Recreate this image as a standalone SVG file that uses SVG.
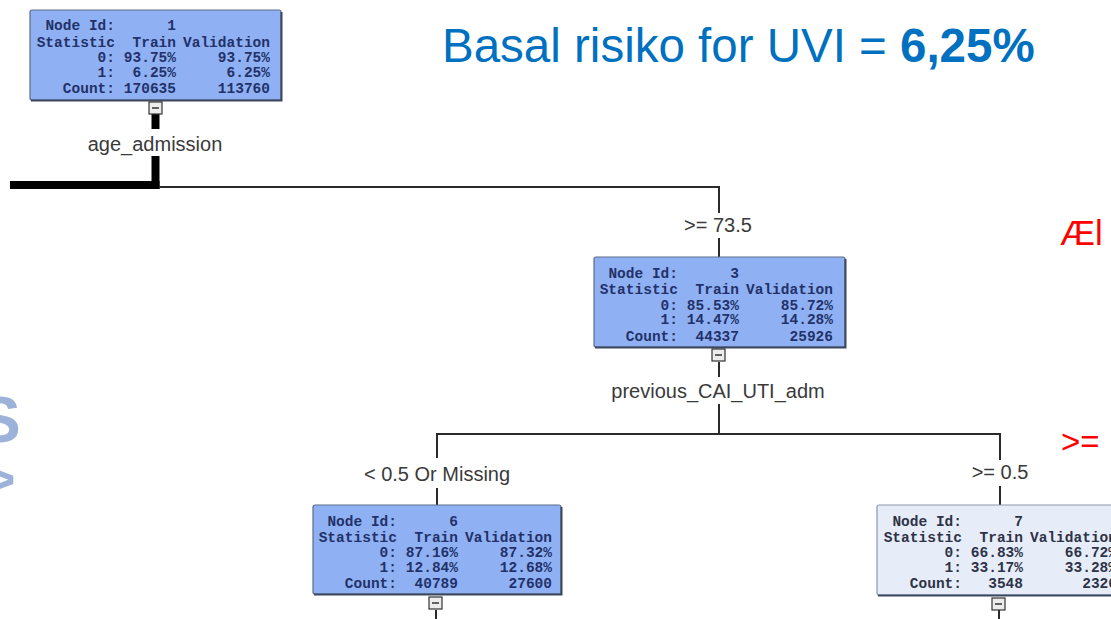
<svg xmlns="http://www.w3.org/2000/svg" width="1111" height="619" viewBox="0 0 1111 619">
<style>
.box{fill:#8fb1f3;stroke:#5d6c88;stroke-width:1.2}
.box7{fill:#e7edf8;stroke:#8c97aa;stroke-width:1.2}
.shadow{stroke:#3c4760;stroke-width:2;fill:none}
.nt{font-family:"Liberation Mono","DejaVu Sans Mono",monospace;font-size:14.5px;font-weight:bold;fill:#23316a;text-anchor:end}
.nt7{font-family:"Liberation Mono","DejaVu Sans Mono",monospace;font-size:14.5px;font-weight:bold;fill:#2e3348;text-anchor:end}
.lbl{font-family:"Liberation Sans",Arial,sans-serif;font-size:20px;fill:#3a3a3a;text-anchor:middle}
.ln{stroke:#2a2a2a;stroke-width:2;fill:none}
.thick{stroke:#000;stroke-width:8;fill:none}
.cb{fill:#ececec;stroke:#333;stroke-width:1.2}
.red{font-family:"Liberation Sans",Arial,sans-serif;fill:#ff0000}
</style>
<defs>
<g id="collapse"><rect class="cb" x="0" y="0" width="13" height="12"/><line x1="3" y1="6" x2="10" y2="6" stroke="#333" stroke-width="1.5"/></g>
</defs>
<rect width="1111" height="619" fill="#ffffff"/>

<g id="title">
<text x="442" y="62" font-family="'Liberation Sans',Arial,sans-serif" font-size="47.5" fill="#0070c0">Basal risiko for UVI = <tspan font-weight="bold">6,25%</tspan></text>
</g>

<g id="red-notes">
<text class="red" x="1060" y="245" font-size="35">Æl</text>
<text class="red" x="1061" y="453" font-size="33">&gt;=</text>
</g>

<g id="left-fragments" fill="#9cb2d8" font-family="'Liberation Sans',Arial,sans-serif" font-weight="bold">
<text x="-22" y="442" font-size="64">S</text>
<text x="-15" y="497" font-size="52">&gt;</text>
</g>

<g id="connectors">
<line class="thick" x1="155.5" y1="114" x2="155.5" y2="129"/>
<line class="thick" x1="155.5" y1="156" x2="155.5" y2="189"/>
<line class="thick" x1="10" y1="185" x2="159.5" y2="185"/>
<polyline class="ln" points="159,187 719,187 719,213"/>
<line class="ln" x1="719" y1="238" x2="719" y2="257"/>
<line class="ln" x1="719" y1="362" x2="719" y2="377"/>
<polyline class="ln" points="719,404 719,434 437,434 437,458"/>
<polyline class="ln" points="719,434 1000,434 1000,460"/>
<line class="ln" x1="437" y1="488" x2="437" y2="505"/>
<line class="ln" x1="1000" y1="486" x2="1000" y2="505"/>
<line class="ln" x1="436" y1="610" x2="436" y2="619"/>
<line class="ln" x1="999" y1="610" x2="999" y2="619"/>
<text class="lbl" x="155" y="151">age_admission</text>
<text class="lbl" x="718" y="232">&gt;= 73.5</text>
<text class="lbl" x="718" y="398">previous_CAI_UTI_adm</text>
<text class="lbl" x="437" y="481">&lt; 0.5 Or Missing</text>
<text class="lbl" x="1000" y="479">&gt;= 0.5</text>
</g>

<g id="node1">
<rect class="box" x="30" y="10" width="251" height="90" rx="2"/>
<polyline class="shadow" points="31,100.5 281.5,100.5 281.5,12"/>
<g class="nt">
<text x="115" y="30">Node Id:</text><text x="176" y="30">1</text>
<text x="115" y="47">Statistic</text><text x="176" y="47">Train</text><text x="270" y="47">Validation</text>
<text x="115" y="62">0:</text><text x="176" y="62">93.75%</text><text x="270" y="62">93.75%</text>
<text x="115" y="77">1:</text><text x="176" y="77">6.25%</text><text x="270" y="77">6.25%</text>
<text x="115" y="93">Count:</text><text x="176" y="93">170635</text><text x="270" y="93">113760</text>
</g>
<use href="#collapse" x="149" y="102"/>
</g>

<g id="node3">
<rect class="box" x="594" y="257" width="251" height="90" rx="2"/>
<polyline class="shadow" points="595,347.5 845.5,347.5 845.5,259"/>
<g class="nt">
<text x="678" y="278">Node Id:</text><text x="739" y="278">3</text>
<text x="678" y="294">Statistic</text><text x="739" y="294">Train</text><text x="833" y="294">Validation</text>
<text x="678" y="310">0:</text><text x="739" y="310">85.53%</text><text x="833" y="310">85.72%</text>
<text x="678" y="324">1:</text><text x="739" y="324">14.47%</text><text x="833" y="324">14.28%</text>
<text x="678" y="341">Count:</text><text x="739" y="341">44337</text><text x="833" y="341">25926</text>
</g>
<use href="#collapse" x="712" y="349"/>
</g>

<g id="node6">
<rect class="box" x="313" y="505" width="248" height="89" rx="2"/>
<polyline class="shadow" points="314,594.5 561.5,594.5 561.5,507"/>
<g class="nt">
<text x="397" y="526">Node Id:</text><text x="458" y="526">6</text>
<text x="397" y="542">Statistic</text><text x="458" y="542">Train</text><text x="552" y="542">Validation</text>
<text x="397" y="557">0:</text><text x="458" y="557">87.16%</text><text x="552" y="557">87.32%</text>
<text x="397" y="572">1:</text><text x="458" y="572">12.84%</text><text x="552" y="572">12.68%</text>
<text x="397" y="588">Count:</text><text x="458" y="588">40789</text><text x="552" y="588">27600</text>
</g>
<use href="#collapse" x="429" y="597"/>
</g>

<g id="node7">
<rect class="box7" x="877" y="505" width="250" height="90" rx="2"/>
<line class="shadow" x1="878" y1="595.5" x2="1111" y2="595.5" stroke="#555a66"/>
<g class="nt7">
<text x="962" y="526">Node Id:</text><text x="1023" y="526">7</text>
<text x="962" y="542">Statistic</text><text x="1023" y="542">Train</text><text x="1117" y="542">Validation</text>
<text x="962" y="557">0:</text><text x="1023" y="557">66.83%</text><text x="1117" y="557">66.72%</text>
<text x="962" y="572">1:</text><text x="1023" y="572">33.17%</text><text x="1117" y="572">33.28%</text>
<text x="962" y="588">Count:</text><text x="1023" y="588">3548</text><text x="1117" y="588">2326</text>
</g>
<use href="#collapse" x="992" y="598"/>
</g>
</svg>
